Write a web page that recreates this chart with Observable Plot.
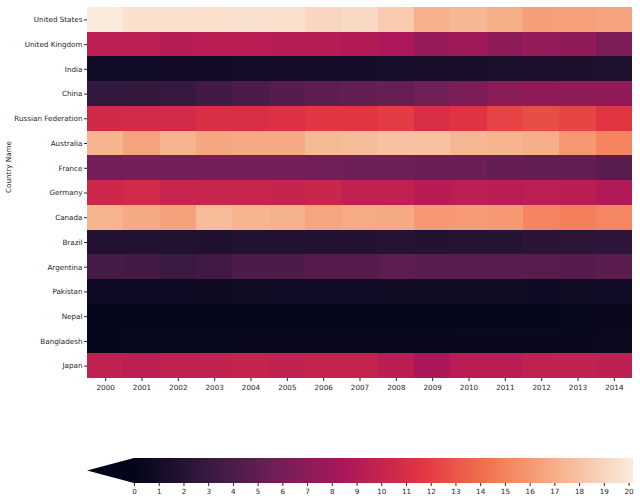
<!DOCTYPE html>
<html><head><meta charset="utf-8">
<script src="https://cdn.jsdelivr.net/npm/d3@7"></script>
<script src="https://cdn.jsdelivr.net/npm/@observablehq/plot@0.6"></script>
<style>body{margin:0;background:#fff;} #chart svg{display:block;}</style>
</head><body><div id="chart"></div>
<script>
const years = ["2000","2001","2002","2003","2004","2005","2006","2007","2008","2009","2010","2011","2012","2013","2014"];
const countries = ["United States","United Kingdom","India","China","Russian Federation","Australia","France","Germany","Canada","Brazil","Argentina","Pakistan","Nepal","Bangladesh","Japan"];

const unitedStates = [20.18, 19.64, 19.58, 19.56, 19.66, 19.59, 19.09, 19.22, 18.46, 17.16, 17.48, 17.02, 16.31, 16.35, 16.49];
const unitedKingdom = [9.5, 9.5, 9.2, 9.3, 9.3, 9.2, 9.2, 9.0, 8.7, 7.6, 7.9, 7.2, 7.5, 7.3, 6.4];
const india = [0.95, 0.95, 0.97, 0.99, 1.03, 1.07, 1.12, 1.18, 1.25, 1.35, 1.33, 1.40, 1.50, 1.52, 1.60];
const china = [2.70, 2.74, 3.00, 3.52, 4.04, 4.44, 4.89, 5.15, 5.31, 5.76, 6.30, 7.00, 7.20, 7.25, 7.30];
const russia = [10.63, 10.67, 10.68, 11.1, 11.1, 11.26, 11.67, 11.68, 11.9, 11.02, 11.5, 12.2, 12.7, 12.3, 11.6];
const australia = [17.3, 16.5, 17.3, 16.7, 16.8, 16.8, 17.6, 17.7, 18.0, 18.0, 17.5, 17.3, 17.0, 16.0, 15.1];
const france = [5.97, 6.06, 5.97, 6.05, 6.05, 6.00, 5.86, 5.74, 5.66, 5.46, 5.52, 5.19, 5.13, 5.09, 4.57];
const germany = [10.4, 10.7, 10.1, 10.1, 10.1, 10.0, 10.2, 9.7, 9.7, 9.2, 9.5, 9.3, 9.5, 9.4, 8.9];
const canada = [17.3, 16.8, 16.4, 17.7, 17.3, 17.2, 16.6, 16.9, 16.8, 16.0, 16.1, 16.0, 15.1, 14.9, 15.2];
const brazil = [1.8, 1.8, 1.8, 1.75, 1.8, 1.8, 1.85, 1.9, 2.0, 1.85, 2.05, 2.1, 2.25, 2.35, 2.45];
const argentina = [3.7, 3.5, 3.2, 3.4, 4.0, 4.0, 4.5, 4.5, 4.8, 4.6, 4.6, 4.6, 4.6, 4.5, 4.7];
const pakistan = [0.70, 0.70, 0.72, 0.75, 0.80, 0.85, 0.85, 0.88, 0.84, 0.83, 0.80, 0.80, 0.78, 0.80, 0.85];
const nepal = [0.12, 0.13, 0.11, 0.12, 0.11, 0.12, 0.10, 0.10, 0.11, 0.14, 0.15, 0.17, 0.20, 0.24, 0.28];
const bangladesh = [0.20, 0.22, 0.23, 0.25, 0.26, 0.27, 0.29, 0.30, 0.32, 0.35, 0.37, 0.40, 0.41, 0.43, 0.46];
const japan = [9.7, 9.5, 9.7, 9.8, 10.0, 9.8, 9.9, 9.9, 9.4, 8.6, 9.3, 9.3, 9.7, 9.8, 9.6];

const colorbarTicks = [0,1,2,3,4,5,6,7,8,9,10,11,12,13,14,15,16,17,18,19,20];
const colorMin = 0, colorMax = 20.18;

const rocketStops = ["#03051a", "#35193e", "#701f57", "#ad1759", "#e13342", "#f37651", "#f6b48f", "#faebdd"];
const rocket = d3.piecewise(d3.interpolateRgb, rocketStops);

const seriesByCountry = [unitedStates, unitedKingdom, india, china, russia, australia, france, germany, canada, brazil, argentina, pakistan, nepal, bangladesh, japan];
const table = [];
countries.forEach((c, i) => years.forEach((y, j) => table.push({country: c, year: y, value: seriesByCountry[i][j]})));

const colorScale = {type: "linear", domain: [colorMin, colorMax], interpolate: rocket};
const font = {fontFamily: "DejaVu Sans, sans-serif", fontSize: "7.2px", color: "#262626", background: "white"};

const main = Plot.plot({
  width: 640, height: 400,
  marginLeft: 87, marginRight: 8, marginTop: 7, marginBottom: 22,
  style: font,
  x: {type: "band", domain: years, padding: 0, round: false},
  y: {type: "band", domain: countries, padding: 0, round: false},
  color: colorScale,
  marks: [
    Plot.cell(table, {x: "year", y: "country", fill: "value", shapeRendering: "crispEdges"}),
    Plot.axisX({tickSize: 3, tickPadding: 3, label: null, stroke: "#262626"}),
    Plot.axisY({tickSize: 3, tickPadding: 2, label: null, stroke: "#262626"}),
    Plot.text(["Country Name"], {frameAnchor: "left", rotate: -90, dx: -79, fill: "#262626", fontSize: 7.2})
  ]
});

const cbSteps = d3.range(colorMin, colorMax, 0.02);
const arrow = [{x: -1.9, y1: 0.5, y2: 0.5}, {x: 0, y1: 0, y2: 1}];
const bar = Plot.plot({
  width: 640, height: 100,
  marginLeft: 87, marginRight: 7, marginTop: 58, marginBottom: 17,
  style: font,
  x: {type: "linear", domain: [-1.9, colorMax]},
  y: {type: "linear", domain: [0, 1], axis: null},
  color: colorScale,
  marks: [
    Plot.rect(cbSteps, {x1: d => d, x2: d => Math.min(d + 0.03, colorMax), y1: 0, y2: 1, fill: d => d + 0.01, shapeRendering: "crispEdges"}),
    Plot.area(arrow, {x1: "x", y1: "y1", y2: "y2", fill: rocketStops[0]}),
    Plot.axisX({ticks: colorbarTicks, tickFormat: d => String(d), tickSize: 3, tickPadding: 2, label: null, stroke: "#262626"})
  ]
});

document.getElementById("chart").append(main, bar);
</script></body></html>
